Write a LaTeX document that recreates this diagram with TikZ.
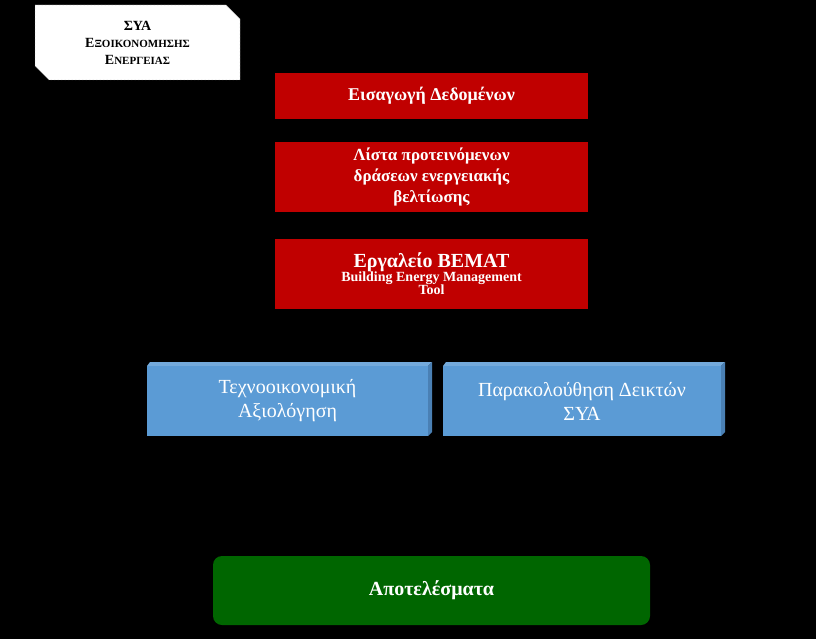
\documentclass[tikz,border=0pt]{standalone}
\usepackage{fontspec}
\setmainfont{Liberation Serif}
\usetikzlibrary{shapes.misc}
\definecolor{redb}{HTML}{C00000}
\definecolor{blueb}{HTML}{5B9BD5}
\definecolor{blueside}{HTML}{4A80B4}
\definecolor{greenb}{HTML}{006600}
\begin{document}
\begin{tikzpicture}[x=1pt,y=-1pt,
  redbox/.style={fill=redb,text=white,font=\bfseries,align=center,inner sep=0},
  bluebox/.style={fill=blueb,text=white,align=center,inner sep=0}]
\fill[black] (0,0) rectangle (816,639);
\useasboundingbox (0,0) rectangle (816,639);
% label
\node[draw=gray,densely dotted,fill=white,minimum width=205pt,minimum height=75pt,inner sep=0,align=center,font=\bfseries\fontsize{14}{16}\selectfont,
  chamfered rectangle,chamfered rectangle corners={north east,south west},chamfered rectangle xsep=7pt,chamfered rectangle ysep=7pt] (lbl) at (137.5,42.5)
  {ΣΥΑ\\[1pt] Ε{\fontsize{11}{13}\selectfont ΞΟΙΚΟΝΟΜΗΣΗΣ}\\[1pt] Ε{\fontsize{11}{13}\selectfont ΝΕΡΓΕΙΑΣ}};
% red boxes
\node[redbox,minimum width=313pt,minimum height=46pt,font=\bfseries\fontsize{18}{20}\selectfont] (r1) at (431.5,96) {Εισαγωγή Δεδομένων};
\node[redbox,minimum width=313pt,minimum height=70pt,font=\bfseries\fontsize{17}{21}\selectfont] (r2) at (431.5,177) {Λίστα προτεινόμενων\\δράσεων ενεργειακής\\βελτίωσης};
\node[redbox,minimum width=313pt,minimum height=70pt] (r3) at (431.5,274) {{\fontsize{20}{22}\selectfont Εργαλείο BEMAT}\\[-1pt]{\fontsize{14}{17}\selectfont Building Energy Management}\\[-1pt]{\fontsize{14}{17}\selectfont Tool}};
% blue boxes with 3D edge
\foreach \xa/\xb/\nm in {147/428/b1,443/721/b2}{
  \fill[blueb!85!white] (\xa,366) -- (\xa+3,362) -- (\xb+4,362) -- (\xb,366) -- cycle;
  \fill[blueside] (\xb,366) -- (\xb+4,362) -- (\xb+4,432) -- (\xb,436) -- cycle;
}
\node[bluebox,minimum width=281pt,minimum height=70pt,font=\fontsize{20}{24}\selectfont] (b1) at (287.5,401) {Τεχνοοικονομική\\Αξιολόγηση};
\node[bluebox,minimum width=278pt,minimum height=70pt,font=\fontsize{20}{24}\selectfont] (b2) at (582,401) {Παρακολούθηση Δεικτών\\ΣΥΑ};
% green
\node[fill=greenb,rounded corners=9pt,minimum width=437pt,minimum height=69pt,text=white,font=\bfseries\fontsize{20}{24}\selectfont] (g) at (431.5,590.5) {Αποτελέσματα};
\end{tikzpicture}
\end{document}
